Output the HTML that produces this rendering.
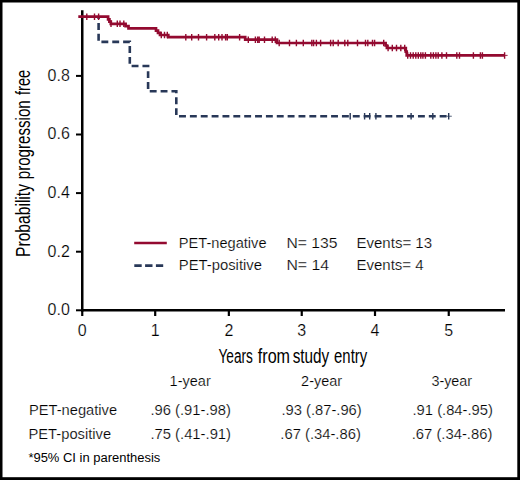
<!DOCTYPE html>
<html><head><meta charset="utf-8"><title>Kaplan-Meier</title>
<style>
html,body{margin:0;padding:0;background:#fff;}
body{width:520px;height:480px;overflow:hidden;}
svg{display:block;font-family:"Liberation Sans", sans-serif;fill:#000;}
text{stroke:#fff;stroke-width:0.2px;paint-order:fill;}
#xt_years,#xt_from,#xt_study,#xt_entry,#yt_prob,#yt_prog,#yt_free,#foot{stroke:none;}
</style></head>
<body>
<svg width="520" height="480" viewBox="0 0 520 480">
<rect x="0" y="0" width="520" height="480" fill="#fff"/>
<rect x="0" y="0" width="520" height="2.5" fill="#000"/>
<rect x="0" y="0" width="2.5" height="480" fill="#000"/>
<rect x="517.3" y="0" width="2.7" height="480" fill="#000"/>
<rect x="0" y="477.2" width="520" height="2.8" fill="#000"/>
<line x1="82.25" y1="10.2" x2="82.25" y2="311.55" stroke="#000" stroke-width="2.5"/>
<line x1="81.0" y1="310.3" x2="505" y2="310.3" stroke="#000" stroke-width="2.5"/>
<line x1="76" y1="310.30" x2="82.25" y2="310.30" stroke="#000" stroke-width="2"/>
<line x1="76" y1="251.70" x2="82.25" y2="251.70" stroke="#000" stroke-width="2"/>
<line x1="76" y1="193.10" x2="82.25" y2="193.10" stroke="#000" stroke-width="2"/>
<line x1="76" y1="134.50" x2="82.25" y2="134.50" stroke="#000" stroke-width="2"/>
<line x1="76" y1="75.90" x2="82.25" y2="75.90" stroke="#000" stroke-width="2"/>
<line x1="82.25" y1="310.3" x2="82.25" y2="316" stroke="#000" stroke-width="2.2"/>
<line x1="155.20" y1="310.3" x2="155.20" y2="316" stroke="#000" stroke-width="2.2"/>
<line x1="228.85" y1="310.3" x2="228.85" y2="316" stroke="#000" stroke-width="2.2"/>
<line x1="301.75" y1="310.3" x2="301.75" y2="316" stroke="#000" stroke-width="2.2"/>
<line x1="375.00" y1="310.3" x2="375.00" y2="316" stroke="#000" stroke-width="2.2"/>
<line x1="448.75" y1="310.3" x2="448.75" y2="316" stroke="#000" stroke-width="2.2"/>
<text x="69.8" y="315.2" font-size="16" text-anchor="end">0.0</text>
<text x="69.8" y="256.6" font-size="16" text-anchor="end">0.2</text>
<text x="69.8" y="198.0" font-size="16" text-anchor="end">0.4</text>
<text x="69.8" y="139.4" font-size="16" text-anchor="end">0.6</text>
<text x="69.8" y="80.8" font-size="16" text-anchor="end">0.8</text>
<text x="82.25" y="335.8" font-size="16" text-anchor="middle">0</text>
<text x="155.20" y="335.8" font-size="16" text-anchor="middle">1</text>
<text x="228.85" y="335.8" font-size="16" text-anchor="middle">2</text>
<text x="301.75" y="335.8" font-size="16" text-anchor="middle">3</text>
<text x="375.00" y="335.8" font-size="16" text-anchor="middle">4</text>
<text x="448.75" y="335.8" font-size="16" text-anchor="middle">5</text>
<line x1="134.2" y1="243" x2="166.8" y2="243" stroke="#930a30" stroke-width="2.7"/>
<line x1="134.3" y1="265.6" x2="163.2" y2="265.6" stroke="#283858" stroke-width="2.6" stroke-dasharray="7.4 3.4"/>
<text id="xt_years" x="218.50" y="362.8" font-size="19.5" textLength="34.44" lengthAdjust="spacingAndGlyphs">Years</text>
<text id="xt_from" x="257.80" y="362.8" font-size="19.5" textLength="32.26" lengthAdjust="spacingAndGlyphs">from</text>
<text id="xt_study" x="292.70" y="362.8" font-size="19.5" textLength="36.55" lengthAdjust="spacingAndGlyphs">study</text>
<text id="xt_entry" x="334.10" y="362.8" font-size="19.5" textLength="33.06" lengthAdjust="spacingAndGlyphs">entry</text>
<text id="yt_prob" transform="translate(29.7,257.00) rotate(-90)" x="0" y="0" font-size="20.3" textLength="73.01" lengthAdjust="spacingAndGlyphs">Probability</text>
<text id="yt_prog" transform="translate(29.7,179.25) rotate(-90)" x="0" y="0" font-size="20.3" textLength="78.99" lengthAdjust="spacingAndGlyphs">progression</text>
<text id="yt_free" transform="translate(29.7,95.00) rotate(-90)" x="0" y="0" font-size="20.3" textLength="25.24" lengthAdjust="spacingAndGlyphs">free</text>
<text id="lg_neg" x="178.80" y="247.6" font-size="15" textLength="87.75" lengthAdjust="spacingAndGlyphs">PET-negative</text>
<text id="lg_pos" x="178.80" y="270.1" font-size="15" textLength="83.17" lengthAdjust="spacingAndGlyphs">PET-positive</text>
<text id="lg_n1" x="286.40" y="247.6" font-size="15" textLength="51.04" lengthAdjust="spacingAndGlyphs">N= 135</text>
<text id="lg_n2" x="286.40" y="270.1" font-size="15" textLength="42.63" lengthAdjust="spacingAndGlyphs">N= 14</text>
<text id="lg_e1" x="356.50" y="247.6" font-size="15" textLength="75.53" lengthAdjust="spacingAndGlyphs">Events= 13</text>
<text id="lg_e2" x="356.50" y="270.1" font-size="15" textLength="67.13" lengthAdjust="spacingAndGlyphs">Events= 4</text>
<text id="tb_h1" x="169.60" y="386.2" font-size="15" textLength="41.15" lengthAdjust="spacingAndGlyphs">1-year</text>
<text id="tb_h2" x="301.10" y="386.3" font-size="15" textLength="41.05" lengthAdjust="spacingAndGlyphs">2-year</text>
<text id="tb_h3" x="431.40" y="386.3" font-size="15" textLength="40.73" lengthAdjust="spacingAndGlyphs">3-year</text>
<text id="tb_neg" x="29.00" y="414.7" font-size="15" textLength="88.13" lengthAdjust="spacingAndGlyphs">PET-negative</text>
<text id="tb_pos" x="28.50" y="438.9" font-size="15" textLength="82.58" lengthAdjust="spacingAndGlyphs">PET-positive</text>
<text id="tb_v11" x="150.40" y="414.8" font-size="15" textLength="80.44" lengthAdjust="spacingAndGlyphs">.96 (.91-.98)</text>
<text id="tb_v12" x="150.40" y="438.9" font-size="15" textLength="80.65" lengthAdjust="spacingAndGlyphs">.75 (.41-.91)</text>
<text id="tb_v21" x="281.50" y="414.8" font-size="15" textLength="80.18" lengthAdjust="spacingAndGlyphs">.93 (.87-.96)</text>
<text id="tb_v22" x="280.30" y="438.9" font-size="15" textLength="80.55" lengthAdjust="spacingAndGlyphs">.67 (.34-.86)</text>
<text id="tb_v31" x="412.50" y="414.8" font-size="15" textLength="80.45" lengthAdjust="spacingAndGlyphs">.91 (.84-.95)</text>
<text id="tb_v32" x="411.70" y="438.9" font-size="15" textLength="80.65" lengthAdjust="spacingAndGlyphs">.67 (.34-.86)</text>
<text id="foot" x="28.40" y="461.8" font-size="12" textLength="131.91" lengthAdjust="spacingAndGlyphs">*95% CI in parenthesis</text>
<path d="M98.6,17 V41.9 H129.8 V66 H148.1 V91.3 H176.3 V116.3 H448.5" fill="none" stroke="#283858" stroke-width="2.6" stroke-dasharray="6.9 3.96" stroke-dashoffset="4.88"/>
<path d="M350.2,113.10V119.50 M364.6,113.10V119.50 M369.7,113.10V119.50 M375.9,113.10V119.50 M411.1,113.10V119.50 M432.8,113.10V119.50 M448.7,113.10V119.50" stroke="#283858" stroke-width="1.4" fill="none"/>
<path d="M446.5,116.3 H451.8" stroke="#283858" stroke-width="1.3" opacity="0.6"/>
<path d="M78.3,16.7 H108.1 V19.3 H109.4 V21.6 H110.8 V23.8 H125.6 V26.1 H128.5 V28.4 H156 V30.6 H158 V32.8 H160 V35.0 H168.3 V37.2 H245.2 V39.7 H277 V43.0 H385.6 V45.5 H386.9 V48.0 H405.8 V51.6 H406.7 V55.45 H504.3" fill="none" stroke="#930a30" stroke-width="2.7" stroke-linejoin="miter"/>
<path d="M504,55.45 H507.6" stroke="#930a30" stroke-width="1.2" opacity="0.8"/>
<path d="M86.8,13.45V19.95 M94.5,13.45V19.95 M98.6,13.45V19.95 M111,20.55V27.05 M117.3,20.55V27.05 M120,20.55V27.05 M123.8,20.55V27.05 M161.3,31.75V38.25 M164.5,31.75V38.25 M167.3,31.75V38.25 M185.8,33.95V40.45 M191.7,33.95V40.45 M198.5,33.95V40.45 M206.6,33.95V40.45 M214.8,33.95V40.45 M218.7,33.95V40.45 M222,33.95V40.45 M225.6,33.95V40.45 M227.3,33.95V40.45 M239.6,33.95V40.45 M248.3,36.45V42.95 M255.4,36.45V42.95 M257.7,36.45V42.95 M259.2,36.45V42.95 M264.5,36.45V42.95 M272.2,36.45V42.95 M275.3,36.45V42.95 M279.2,39.75V46.25 M289.5,39.75V46.25 M296.4,39.75V46.25 M303.3,39.75V46.25 M311.8,39.75V46.25 M313.6,39.75V46.25 M316.4,39.75V46.25 M320.6,39.75V46.25 M330.6,39.75V46.25 M333.2,39.75V46.25 M338.2,39.75V46.25 M344.8,39.75V46.25 M347.8,39.75V46.25 M357.5,39.75V46.25 M365.5,39.75V46.25 M367.8,39.75V46.25 M372.5,39.75V46.25 M374.6,39.75V46.25 M383.7,39.75V46.25 M388.1,44.75V51.25 M392.3,44.75V51.25 M396.5,44.75V51.25 M400.8,44.75V51.25 M404.7,44.75V51.25 M407.7,52.20V58.70 M410.5,52.20V58.70 M413.2,52.20V58.70 M415.8,52.20V58.70 M418.3,52.20V58.70 M420.8,52.20V58.70 M422.9,52.20V58.70 M425.4,52.20V58.70 M430.8,52.20V58.70 M433.4,52.20V58.70 M435.9,52.20V58.70 M438.2,52.20V58.70 M441.9,52.20V58.70 M446.5,52.20V58.70 M456.8,52.20V58.70 M459.5,52.20V58.70 M473.4,52.20V58.70 M480.4,52.20V58.70 M482.4,52.20V58.70 M504.6,52.20V58.70" stroke="#930a30" stroke-width="1.4" fill="none"/>
</svg>
</body></html>
